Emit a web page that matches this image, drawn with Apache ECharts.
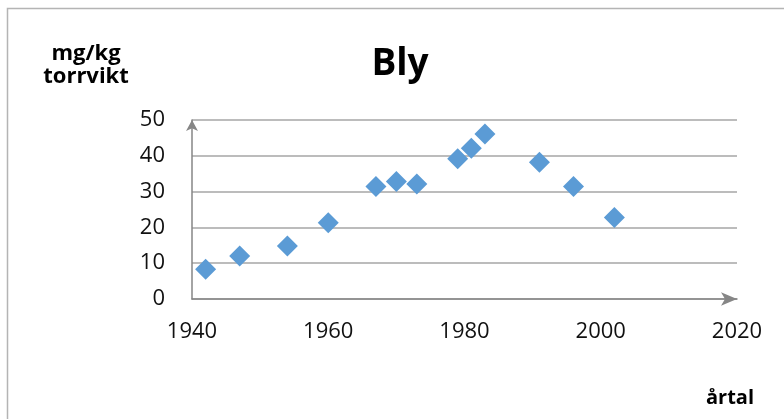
<!DOCTYPE html>
<html>
<head>
<meta charset="utf-8">
<script src="https://cdn.jsdelivr.net/npm/echarts@6/dist/echarts.min.js"></script>
<style>html,body{margin:0;padding:0;background:#fff}#c{width:784px;height:419px}</style>
</head>
<body>
<div id="c"></div>
<script>
var years = [1942, 1947, 1954, 1960, 1967, 1970, 1973, 1979, 1981, 1983, 1991, 1996, 2002];
var values = [8.3, 12.0, 14.8, 21.3, 31.4, 32.8, 32.1, 39.2, 42.1, 46.1, 38.2, 31.4, 22.8];
var titleText = 'Bly';
var yUnitLines = ['mg/kg', 'torrvikt'];
var xName = 'årtal';

var FONT = '"Open Sans", "Noto Sans", sans-serif';
var chart = echarts.init(document.getElementById('c'), null, {renderer: 'canvas'});
chart.setOption({
  animation: false,
  backgroundColor: '#fff',
  grid: {left: 192, right: 47, top: 120, bottom: 120},
  xAxis: {
    type: 'value', min: 1940, max: 2020, interval: 20,
    axisLine: {show: true, symbol: ['none', 'arrow'], symbolSize: [10, 16],
      lineStyle: {color: '#868686', width: 1.5}},
    axisTick: {show: false},
    splitLine: {show: false},
    axisLabel: {color: '#111', fontSize: 22, fontFamily: FONT, margin: 22,
      formatter: function (v) { return String(v); }}
  },
  yAxis: {
    type: 'value', min: 0, max: 50, interval: 10,
    axisLine: {show: true, symbol: ['none', 'arrow'], symbolSize: [9, 11],
      lineStyle: {color: '#868686', width: 1.5}},
    axisTick: {show: false},
    splitLine: {show: true, lineStyle: {color: '#a6a6a6', width: 1.5}},
    axisLabel: {color: '#111', fontSize: 22, fontFamily: FONT, margin: 27}
  },
  series: [{
    type: 'scatter',
    data: years.map(function (y, i) { return [y, values[i]]; }),
    symbol: 'diamond',
    symbolSize: 21,
    itemStyle: {color: '#5b9bd5', opacity: 1}
  }],
  graphic: [
    {type: 'rect', shape: {x: 7.5, y: 8.5, width: 900, height: 600},
      style: {fill: 'none', stroke: '#b4b4b4', lineWidth: 1.5}, silent: true},
    {type: 'text', style: {text: titleText, x: 400, y: 64, textAlign: 'center', textVerticalAlign: 'middle',
      font: 'bold 37px ' + FONT, fill: '#000'}},
    {type: 'text', style: {text: yUnitLines[0], x: 86, y: 54, textAlign: 'center', textVerticalAlign: 'middle',
      font: 'bold 22px ' + FONT, fill: '#000'}},
    {type: 'text', style: {text: yUnitLines[1], x: 86, y: 77, textAlign: 'center', textVerticalAlign: 'middle',
      font: 'bold 22px ' + FONT, fill: '#000'}},
    {type: 'text', style: {text: xName, x: 730, y: 398, textAlign: 'center', textVerticalAlign: 'middle',
      font: 'bold 20px ' + FONT, fill: '#000'}}
  ]
});
</script>
</body>
</html>
